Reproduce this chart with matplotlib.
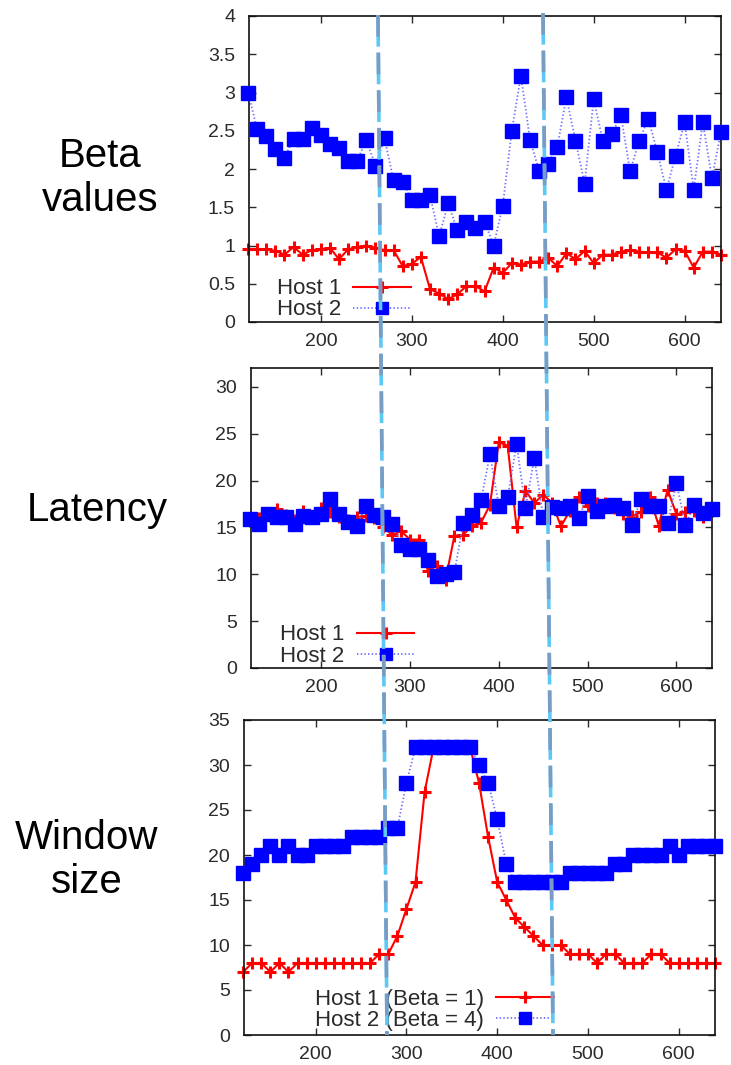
import matplotlib
matplotlib.use("Agg")
import matplotlib.pyplot as plt
from matplotlib.lines import Line2D
from matplotlib.ticker import FuncFormatter

plt.rcParams["font.family"] = ["Liberation Sans", "DejaVu Sans"]
plt.rcParams["lines.scale_dashes"] = False

# sample times (same for all three panels)
times = [120, 130, 140, 150, 160, 170, 180, 190, 200, 210, 220, 230, 240, 250,
         260, 270, 280, 290, 300, 310, 320, 330, 340, 350, 360, 370, 380, 390,
         400, 410, 420, 430, 440, 450, 460, 470, 480, 490, 500, 510, 520, 530,
         540, 550, 560, 570, 580, 590, 600, 610, 620, 630, 640]

beta_host1 = [0.95, 0.95, 0.95, 0.93, 0.88, 0.98, 0.88, 0.94, 0.95, 0.97, 0.82,
              0.95, 0.98, 1.00, 0.97, 0.94, 0.94, 0.73, 0.76, 0.85, 0.43, 0.37,
              0.30, 0.36, 0.47, 0.47, 0.40, 0.71, 0.64, 0.77, 0.75, 0.79, 0.79,
              0.84, 0.73, 0.90, 0.82, 0.93, 0.77, 0.88, 0.88, 0.92, 0.94, 0.92,
              0.91, 0.91, 0.84, 0.95, 0.93, 0.71, 0.92, 0.92, 0.88]
beta_host2 = [3.00, 2.52, 2.43, 2.26, 2.15, 2.39, 2.39, 2.54, 2.45, 2.33, 2.27,
              2.11, 2.11, 2.38, 2.04, 2.40, 1.85, 1.83, 1.60, 1.60, 1.66, 1.12,
              1.55, 1.20, 1.31, 1.23, 1.31, 1.00, 1.52, 2.50, 3.22, 2.38, 1.98,
              2.07, 2.29, 2.94, 2.37, 1.81, 2.91, 2.37, 2.46, 2.70, 1.97, 2.37,
              2.66, 2.22, 1.73, 2.17, 2.61, 1.73, 2.61, 1.88, 2.49]

lat_host1 = [15.7, 16.0, 16.5, 17.0, 16.3, 15.8, 16.8, 16.1, 17.1, 16.6, 16.1,
             15.8, 16.1, 16.2, 16.0, 15.0, 14.2, 14.6, 13.7, 13.7, 10.4, 10.9,
             9.4, 14.1, 14.2, 15.2, 15.5, 17.4, 24.1, 23.7, 15.0, 18.9, 17.6,
             18.5, 17.6, 15.1, 16.8, 18.2, 17.3, 17.6, 17.6, 17.1, 16.4, 16.2,
             16.6, 18.2, 15.2, 19.0, 16.4, 16.6, 16.8, 16.1, 16.8]
lat_host2 = [15.9, 15.4, 16.4, 16.1, 16.1, 15.4, 16.2, 16.1, 16.4, 18.0, 16.4,
             15.6, 15.1, 17.3, 16.3, 16.1, 15.4, 13.1, 12.7, 12.7, 11.5, 9.8,
             10.0, 10.2, 15.5, 16.3, 17.9, 22.8, 17.3, 18.2, 23.9, 17.1, 22.4,
             16.1, 17.2, 17.1, 17.3, 16.0, 18.4, 16.8, 17.3, 17.4, 17.1, 15.3,
             18.0, 17.3, 17.3, 15.5, 19.7, 15.3, 17.4, 16.5, 17.0]

win_host1 = [7, 8, 8, 7, 8, 7, 8, 8, 8, 8, 8, 8, 8, 8, 8, 9, 9, 11, 14, 17, 27,
             32, 32, 32, 32, 32, 28, 22, 17, 15, 13, 12, 11, 10, 10, 10, 9, 9,
             9, 8, 9, 9, 8, 8, 8, 9, 9, 8, 8, 8, 8, 8, 8]
win_host2 = [18, 19, 20, 21, 20, 21, 20, 20, 21, 21, 21, 21, 22, 22, 22, 22, 23,
             23, 28, 32, 32, 32, 32, 32, 32, 32, 30, 28, 24, 19, 17, 17, 17, 17,
             17, 17, 18, 18, 18, 18, 18, 19, 19, 20, 20, 20, 20, 21, 20, 21, 21,
             21, 21]

W, H = 731, 1065
fig = plt.figure(figsize=(W / 100, H / 100), dpi=100)
fig.patch.set_facecolor("white")

TEXT_GRAY = "#2a2a2a"


def add_axes_px(left, top, right, bottom):
    return fig.add_axes([left / W, 1 - bottom / H, (right - left) / W, (bottom - top) / H])


def style_axes(ax, ylim, yticks):
    ax.set_xlim(121, 640)
    ax.set_ylim(*ylim)
    ax.set_xticks([200, 300, 400, 500, 600])
    ax.set_yticks(yticks)
    ax.yaxis.set_major_formatter(FuncFormatter(lambda v, _: f"{v:g}"))
    ax.tick_params(direction="in", top=True, right=True, length=5, width=1,
                   labelsize=14, colors=TEXT_GRAY, pad=8)
    ax.tick_params(axis="y", pad=10)
    for s in ax.spines.values():
        s.set_linewidth(1.2)
        s.set_color("#111111")


def draw(ax, y1, y2):
    ax.plot(times, y1, color="red", lw=1.5, marker="+", ms=8, mew=2.2,
            clip_on=False, zorder=2)
    ax.plot(times, y2, color="#6f6fff", lw=1.3, ls=":", marker="s", ms=9.5,
            mfc="#0000ff", mec="#0000ff", clip_on=False, zorder=3)


def legend(ax, labels, x, y):
    h1 = Line2D([], [], color="red", lw=1.5, marker="+", ms=8, mew=2.2)
    h2 = Line2D([], [], color="#6f6fff", lw=1.3, ls=":", marker="s", ms=8,
                mfc="#0000ff", mec="#0000ff")
    leg = ax.legend([h1, h2], labels, loc="lower left", bbox_to_anchor=(x, y),
                    frameon=False, markerfirst=False, numpoints=1, fontsize=16,
                    handlelength=2.6, handletextpad=0.55, labelspacing=0.0,
                    borderpad=0, borderaxespad=0)
    for t in leg.get_texts():
        t.set_color(TEXT_GRAY)


ax1 = add_axes_px(249, 16, 721, 322)
draw(ax1, beta_host1, beta_host2)
style_axes(ax1, (0, 4), [0, 0.5, 1, 1.5, 2, 2.5, 3, 3.5, 4])
legend(ax1, ["Host 1", "Host 2"], 0.059, 0.005)

ax2 = add_axes_px(251, 368, 712, 668)
draw(ax2, lat_host1, lat_host2)
style_axes(ax2, (0, 32), [0, 5, 10, 15, 20, 25, 30])
legend(ax2, ["Host 1", "Host 2"], 0.063, 0.005)

ax3 = add_axes_px(244, 720, 715, 1035)
draw(ax3, win_host1, win_host2)
style_axes(ax3, (0, 35), [0, 5, 10, 15, 20, 25, 30, 35])
legend(ax3, ["Host 1 (Beta = 1)", "Host 2 (Beta = 4)"], 0.15, 0.012)

# row labels on the left
fig.text(100 / W, 1 - 178 / H, "Beta\nvalues", ha="center", va="center",
         fontsize=29, linespacing=1.2)
fig.text(97 / W, 1 - 510 / H, "Latency", ha="center", va="center", fontsize=29)
fig.text(87 / W, 1 - 860 / H, "Window\nsize", ha="center", va="center",
         fontsize=29, linespacing=1.2)

# two slanted dashed guide lines across all panels (pixel coords: top -> bottom)
guides = [((378, 15), (387, 1035)), ((543, 13), (553, 1035))]
for (xa, ya), (xb, yb) in guides:
    xs = [xa / W, xb / W]
    ys = [1 - ya / H, 1 - yb / H]
    under = Line2D(xs, ys, transform=fig.transFigure, color="#5cc8f5", lw=2.6,
                   linestyle=(0, (22.8, 4.3)), dash_capstyle="butt", zorder=10)
    over = Line2D(xs, ys, transform=fig.transFigure, color="#7a9bc4", lw=2.6,
                  linestyle=(0, (15.6, 11.5)), dash_capstyle="butt", zorder=11)
    fig.add_artist(under)
    fig.add_artist(over)

fig.savefig("out.png", dpi=100)
